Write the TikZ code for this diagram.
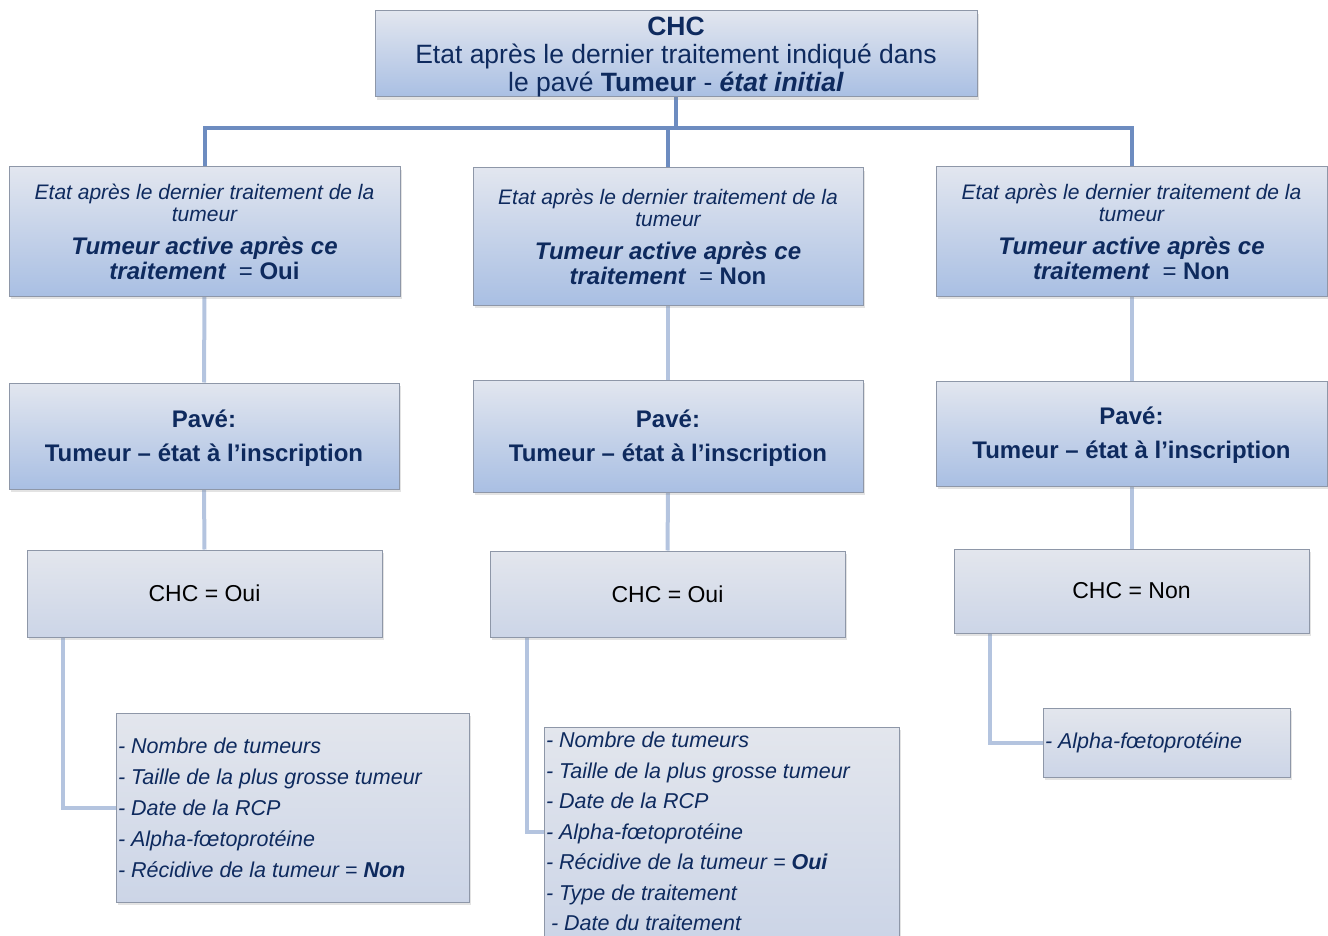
\documentclass[tikz,border=0pt]{standalone}
\usepackage{fontspec}
\setmainfont{Liberation Sans}
\usetikzlibrary{shadows}
\pgfdeclarelayer{background}
\pgfsetlayers{background,main}
\definecolor{navy}{HTML}{0E2A5E}
\definecolor{boxline}{HTML}{8E97A8}
\definecolor{topA}{HTML}{E2E6EF}
\definecolor{botA}{HTML}{A9BFE3}
\definecolor{topB}{HTML}{E3E6ED}
\definecolor{botB}{HTML}{CCD5E7}
\definecolor{linkdark}{HTML}{6D8CC0}
\definecolor{linklight}{HTML}{B4C4DF}
\tikzset{
  shade box/.style={draw=boxline, line width=1pt, inner sep=0pt,
    drop shadow={opacity=0.22, shadow xshift=2pt, shadow yshift=-3pt}},
  bluebox/.style={shade box, top color=topA, bottom color=botA, align=center, text=navy},
  greybox/.style={shade box, top color=topB, bottom color=botB, align=center, text=black},
  listbox/.style={shade box, top color=topB, bottom color=botB, align=left, text=navy, inner xsep=2pt},
  bus/.style={draw=linkdark, line width=4pt},
  link/.style={draw=linklight, line width=4pt},
}
\newcommand{\fsz}[2]{\fontsize{#1}{#2}\selectfont\spaceskip=\fontdimen2\font\xspaceskip=\fontdimen2\font\relax}
\newcommand{\lvltwo}[1]{{\fsz{21}{22}\itshape Etat après le dernier traitement de la\\tumeur\par}\vspace{8pt}{\fsz{24}{25}\bfseries\itshape Tumeur active après ce\\traitement~ {\upshape\mdseries =} {\upshape #1}\par}}
\newcommand{\lvlthree}{{\fsz{24}{34}\bfseries Pavé:\\Tumeur – état à l’inscription\par}\vspace{-4pt}}
\begin{document}
\begin{tikzpicture}[x=1pt,y=-1pt]
\useasboundingbox (0,0) rectangle (1328,936);
% level 1
\node[bluebox, minimum width=602pt, minimum height=86pt, text width=590pt] (top) at (676,54)
  {\fsz{26.5}{28}\bfseries CHC\\\mdseries Etat après le dernier traitement indiqué dans\\le pavé \textbf{Tumeur} - \textbf{\textit{état initial}}\par\vspace{-6pt}};
% level 2
\node[bluebox, minimum width=391pt, minimum height=129pt, text width=381pt] (a2) at (204.5,231.5) {\lvltwo{Oui}};
\node[bluebox, minimum width=390pt, minimum height=137pt, text width=380pt] (b2) at (668,236.5) {\lvltwo{Non}};
\node[bluebox, minimum width=391pt, minimum height=129pt, text width=381pt] (c2) at (1131.5,231.5) {\lvltwo{Non}};
% level 3
\node[bluebox, minimum width=390pt, minimum height=106pt, text width=380pt] (a3) at (204,436) {\lvlthree};
\node[bluebox, minimum width=390pt, minimum height=112pt, text width=380pt] (b3) at (668,436) {\lvlthree};
\node[bluebox, minimum width=391pt, minimum height=105pt, text width=381pt] (c3) at (1131.5,433.5) {\lvlthree};
% level 4
\node[greybox, minimum width=355pt, minimum height=87pt, text width=345pt] (a4) at (204.5,593.5) {\fsz{23}{28}CHC = Oui\par};
\node[greybox, minimum width=355pt, minimum height=86pt, text width=345pt] (b4) at (667.5,594) {\fsz{23}{28}CHC = Oui\par};
\node[greybox, minimum width=355pt, minimum height=84pt, text width=345pt] (c4) at (1131.5,591) {\fsz{23}{28}CHC = Non\par};
% level 5
\node[listbox, minimum width=353pt, minimum height=189pt, text width=349pt] (a5) at (292.5,807.5)
  {\fsz{21.5}{31}\itshape - Nombre de tumeurs\\- Taille de la plus grosse tumeur\\- Date de la RCP\\- Alpha-fœtoprotéine\\- Récidive de la tumeur = \textbf{Non}\par};
\node[listbox, minimum width=355pt, minimum height=209pt, text width=351pt] (b5) at (721.5,831.5)
  {\fsz{21.5}{30.5}\itshape - Nombre de tumeurs\\- Taille de la plus grosse tumeur\\- Date de la RCP\\- Alpha-fœtoprotéine\\- Récidive de la tumeur = \textbf{Oui}\\- Type de traitement\\\hspace*{5pt}- Date du traitement\par};
\node[listbox, minimum width=247pt, minimum height=69pt, text width=243pt] (c5) at (1166.5,742.5)
  {\fsz{21.5}{31}\itshape - Alpha-fœtoprotéine\par};
% connectors
\begin{pgfonlayer}{background}
\coordinate (busy) at (0,128);
\draw[bus] (top.south) -- (top.south |- busy);
\draw[bus] (a2.north) -- (a2.north |- busy) -| (c2.north);
\draw[bus] (b2.north) -- (b2.north |- busy);
\draw[link] (a2.south) -- (a3.north);
\draw[link] (b2.south) -- (b3.north);
\draw[link] (c2.south) -- (c3.north);
\draw[link] (a3.south) -- (a4.north);
\draw[link] (b3.south) -- (b4.north);
\draw[link] (c3.south) -- (c4.north);
\draw[link] ([xshift=-141.5pt]a4.south) |- (a5.west);
\draw[link] ([xshift=-140.5pt]b4.south) |- (b5.west);
\draw[link] ([xshift=-141.5pt]c4.south) |- (c5.west);
\end{pgfonlayer}
\end{tikzpicture}
\end{document}
